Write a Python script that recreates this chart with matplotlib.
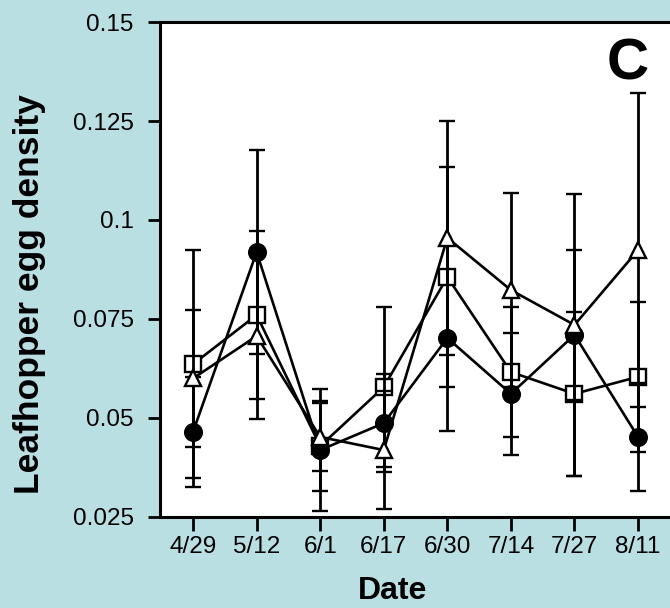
import numpy as np
import matplotlib
matplotlib.use('Agg')
import matplotlib.pyplot as plt

plt.rcParams['font.family'] = ['Liberation Sans', 'DejaVu Sans']

# ---- data ----
dates = ['4/29', '5/12', '6/1', '6/17', '6/30', '7/14', '7/27', '8/11']

circle = [0.0465, 0.0919, 0.0419, 0.0487, 0.0702, 0.0561, 0.0710, 0.0452]
circle_err = [0.0139, 0.0258, 0.0155, 0.0124, 0.0235, 0.0154, 0.0356, 0.0136]

square = [0.0636, 0.0760, 0.0429, 0.0578, 0.0856, 0.0616, 0.0561, 0.0604]
square_err = [0.0288, 0.0212, 0.0114, 0.0202, 0.0278, 0.0164, 0.0207, 0.0189]

triangle = [0.0600, 0.0707, 0.0452, 0.0419, 0.0955, 0.0823, 0.0735, 0.0924]
triangle_err = [0.0173, 0.0210, 0.0086, 0.0149, 0.0295, 0.0245, 0.0189, 0.0396]

yticks = [0.025, 0.05, 0.075, 0.1, 0.125, 0.15]
ytick_labels = ['0.025', '0.05', '0.075', '0.1', '0.125', '0.15']

bg = '#badfe3'

fig = plt.figure(figsize=(6.7, 6.08), dpi=100, facecolor=bg)
ax = fig.add_axes([0.2388, 0.1497, 0.8084, 0.8141])
ax.set_facecolor('white')

x = np.arange(len(dates))

common = dict(color='black', lw=1.9, elinewidth=2.0, capsize=6, capthick=2.0,
              markersize=12, markeredgewidth=1.7, markeredgecolor='black')

ax.errorbar(x, square, yerr=square_err, fmt='-s', markerfacecolor='white',
            zorder=3, **common)
ax.errorbar(x, circle, yerr=circle_err, fmt='-o', markerfacecolor='black',
            zorder=4, **common)
ax.errorbar(x, triangle, yerr=triangle_err, fmt='-^', markerfacecolor='white',
            zorder=5, **common)

ax.set_xlim(-0.52, 8.0)
ax.set_ylim(0.025, 0.15)
ax.set_xticks(x)
ax.set_xticklabels(dates)
ax.set_yticks(yticks)
ax.set_yticklabels(ytick_labels)

for side in ['left', 'top', 'bottom', 'right']:
    ax.spines[side].set_linewidth(2.2)
ax.tick_params(axis='y', direction='out', length=9, width=2, pad=10, labelsize=17.5)
ax.tick_params(axis='x', direction='out', length=10, width=2, pad=4, labelsize=17.5)

fig.text(393 / 670, 1 - 591 / 608, 'Date', fontsize=23, fontweight='bold',
         ha='center', va='center')
fig.text(30 / 670, 1 - 294 / 608, 'Leafhopper egg density', fontsize=25.5,
         fontweight='bold', rotation=90, ha='center', va='center')
fig.text(628 / 670, 1 - 65 / 608, 'C', fontsize=42, fontweight='bold',
         ha='center', va='center')

fig.savefig('out.png', dpi=100, facecolor=bg)
